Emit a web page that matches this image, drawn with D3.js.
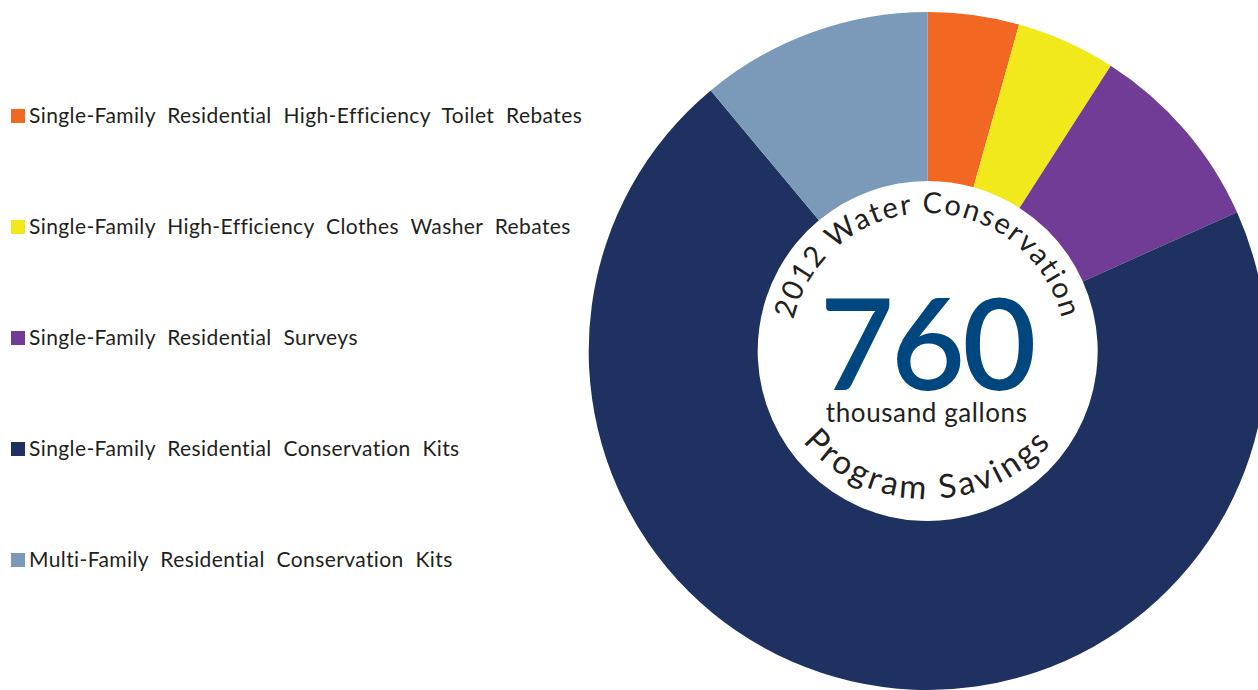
<!DOCTYPE html>
<html>
<head>
<meta charset="utf-8">
<script src="https://cdn.jsdelivr.net/npm/d3@7"></script>
<style>
  html, body { margin: 0; padding: 0; background: #fff; }
  svg { display: block; font-family: Lato, "Open Sans", sans-serif; }
</style>
</head>
<body>
<div id="chart"></div>
<script>
const categories = [
  'Single-Family Residential High-Efficiency Toilet Rebates',
  'Single-Family High-Efficiency Clothes Washer Rebates',
  'Single-Family Residential Surveys',
  'Single-Family Residential Conservation Kits',
  'Multi-Family Residential Conservation Kits',
];
const savings = [33, 36, 70, 537, 84]; // thousand gallons
const colors = ['#f26722', '#f2e91c', '#713c96', '#1f3161', '#7b99b9'];
const total = '760';
const unitLabel = 'thousand gallons';
const topLabel = '2012 Water Conservation';
const bottomLabel = 'Program Savings';

const width = 1258;
const height = 690;
const cx = 927.7, cy = 351;
const outerR = 339, innerR = 170;

const data = categories.map((name, i) => ({name, value: savings[i], color: colors[i]}));

const svg = d3.select('#chart')
  .append('svg')
  .attr('width', width)
  .attr('height', height)
  .attr('viewBox', [0, 0, width, height]);

// Donut
const pie = d3.pie()
  .sort(null)
  .value(d => d.value);

const arc = d3.arc()
  .innerRadius(innerR)
  .outerRadius(outerR);

const ring = svg.append('g')
  .attr('transform', `translate(${cx},${cy})`);

ring.selectAll('path')
  .data(pie(data))
  .join('path')
  .attr('fill', d => d.data.color)
  .attr('d', arc);

// Curved labels
const defs = svg.append('defs');
const rTop = 138;
const rxBottom = 158, ryBottom = 148;
defs.append('path')
  .attr('id', 'arcTop')
  .attr('d', `M${cx - rTop},${cy} A${rTop},${rTop} 0 0 1 ${cx + rTop},${cy}`);
defs.append('path')
  .attr('id', 'arcBottom')
  .attr('d', `M${cx - rxBottom},${cy} A${rxBottom},${ryBottom} 0 0 0 ${cx + rxBottom},${cy}`);

svg.append('text')
  .attr('fill', '#231f20')
  .style('font-size', '29px')
  .style('letter-spacing', '1.8px')
  .append('textPath')
  .attr('href', '#arcTop')
  .attr('startOffset', '50%')
  .attr('text-anchor', 'middle')
  .text(topLabel);

svg.append('text')
  .attr('fill', '#231f20')
  .style('font-size', '33px')
  .style('letter-spacing', '3px')
  .append('textPath')
  .attr('href', '#arcBottom')
  .attr('startOffset', '50%')
  .attr('text-anchor', 'middle')
  .text(bottomLabel);

// Center number
svg.append('text')
  .attr('x', cx - 1)
  .attr('y', 390)
  .attr('text-anchor', 'middle')
  .attr('fill', '#00467f')
  .style('font-size', '128px')
  .style('font-weight', 600)
  .style('letter-spacing', '-3px')
  .text(total);

svg.append('text')
  .attr('x', cx - 1)
  .attr('y', 422)
  .attr('text-anchor', 'middle')
  .attr('fill', '#231f20')
  .style('font-size', '26px')
  .style('letter-spacing', '0.6px')
  .text(unitLabel);

// Legend
const legend = svg.append('g')
  .selectAll('g')
  .data(data)
  .join('g')
  .attr('transform', (d, i) => `translate(11,${109 + i * 111})`);

legend.append('rect')
  .attr('width', 14)
  .attr('height', 14)
  .attr('fill', d => d.color);

legend.append('text')
  .attr('x', 18)
  .attr('y', 14)
  .attr('fill', '#231f20')
  .style('font-size', '21px')
  .style('letter-spacing', '0.4px')
  .style('word-spacing', '6px')
  .text(d => d.name);
</script>
</body>
</html>
